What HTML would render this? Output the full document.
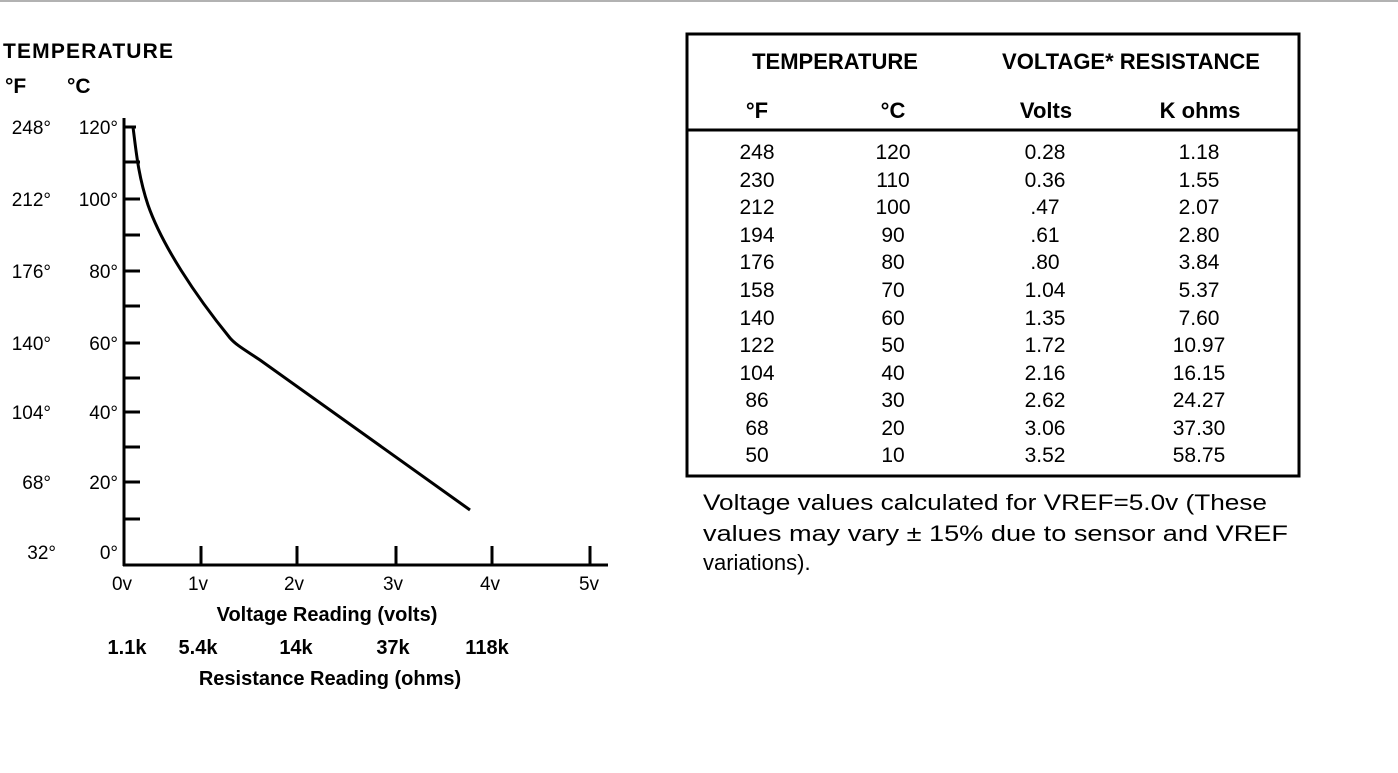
<!DOCTYPE html>
<html><head><style>
body{margin:0;width:1398px;height:773px;background:#fff;overflow:hidden;font-family:"Liberation Sans",Arial,sans-serif;}
svg{position:absolute;left:0;top:0}
</style></head><body>
<svg width="1398" height="773" viewBox="0 0 1398 773" font-family="Liberation Sans, Arial, sans-serif">
<line x1="0" y1="1" x2="1398" y2="1" stroke="#999" stroke-width="1.5"/>
<g font-weight="bold" font-size="21" fill="#000">
<text x="3" y="58" textLength="170">TEMPERATURE</text>
<text x="5" y="93">°F</text>
<text x="67" y="93">°C</text>
</g>
<g font-size="19" fill="#000" text-anchor="end">
<text x="51" y="134">248°</text><text x="118" y="134">120°</text>
<text x="51" y="206">212°</text><text x="118" y="206">100°</text>
<text x="51" y="278">176°</text><text x="118" y="278">80°</text>
<text x="51" y="350">140°</text><text x="118" y="350">60°</text>
<text x="51" y="419">104°</text><text x="118" y="419">40°</text>
<text x="51" y="489">68°</text><text x="118" y="489">20°</text>
<text x="56" y="559">32°</text><text x="118" y="559">0°</text>
</g>
<g stroke="#000" stroke-width="3" fill="none">
<line x1="124" y1="118" x2="124" y2="566"/>
<line x1="123" y1="565" x2="608" y2="565"/>
<path d="M124 127H136 M124 162H140 M124 199H140 M124 235H140 M124 271H140 M124 306H140 M124 343H140 M124 378H140 M124 412H140 M124 447H140 M124 482H140 M124 519H140"/>
<path d="M201 546V565 M297 546V565 M396 546V565 M492 546V565 M590 546V565"/>
<path d="M133 127 C136 150,138 175,148 205 C162 245,195 295,230 338 C236 345,245 350,260 360 L470 510"/>
</g>
<g font-size="19" fill="#000" text-anchor="middle">
<text x="122" y="590">0v</text><text x="198" y="590">1v</text><text x="294" y="590">2v</text>
<text x="393" y="590">3v</text><text x="490" y="590">4v</text><text x="589" y="590">5v</text>
</g>
<g font-size="20" font-weight="bold" fill="#000" text-anchor="middle">
<text x="327" y="621">Voltage Reading (volts)</text>
<text x="127" y="654">1.1k</text><text x="198" y="654">5.4k</text><text x="296" y="654">14k</text>
<text x="393" y="654">37k</text><text x="487" y="654">118k</text>
<text x="330" y="685">Resistance Reading (ohms)</text>
</g>
<rect x="687" y="34" width="612" height="442" fill="none" stroke="#000" stroke-width="3"/>
<line x1="687" y1="130" x2="1299" y2="130" stroke="#000" stroke-width="3"/>
<g font-weight="bold" font-size="22" fill="#000" text-anchor="middle">
<text x="835" y="69">TEMPERATURE</text>
<text x="1131" y="69">VOLTAGE* RESISTANCE</text>
<text x="757" y="118">°F</text><text x="893" y="118">°C</text>
<text x="1046" y="118">Volts</text><text x="1200" y="118">K ohms</text>
</g>
<g font-size="21" fill="#000" text-anchor="middle">
<text y="159"><tspan x="757">248</tspan><tspan x="893">120</tspan><tspan x="1045">0.28</tspan><tspan x="1199">1.18</tspan></text>
<text y="187"><tspan x="757">230</tspan><tspan x="893">110</tspan><tspan x="1045">0.36</tspan><tspan x="1199">1.55</tspan></text>
<text y="214"><tspan x="757">212</tspan><tspan x="893">100</tspan><tspan x="1045">.47</tspan><tspan x="1199">2.07</tspan></text>
<text y="242"><tspan x="757">194</tspan><tspan x="893">90</tspan><tspan x="1045">.61</tspan><tspan x="1199">2.80</tspan></text>
<text y="269"><tspan x="757">176</tspan><tspan x="893">80</tspan><tspan x="1045">.80</tspan><tspan x="1199">3.84</tspan></text>
<text y="297"><tspan x="757">158</tspan><tspan x="893">70</tspan><tspan x="1045">1.04</tspan><tspan x="1199">5.37</tspan></text>
<text y="325"><tspan x="757">140</tspan><tspan x="893">60</tspan><tspan x="1045">1.35</tspan><tspan x="1199">7.60</tspan></text>
<text y="352"><tspan x="757">122</tspan><tspan x="893">50</tspan><tspan x="1045">1.72</tspan><tspan x="1199">10.97</tspan></text>
<text y="380"><tspan x="757">104</tspan><tspan x="893">40</tspan><tspan x="1045">2.16</tspan><tspan x="1199">16.15</tspan></text>
<text y="407"><tspan x="757">86</tspan><tspan x="893">30</tspan><tspan x="1045">2.62</tspan><tspan x="1199">24.27</tspan></text>
<text y="435"><tspan x="757">68</tspan><tspan x="893">20</tspan><tspan x="1045">3.06</tspan><tspan x="1199">37.30</tspan></text>
<text y="462"><tspan x="757">50</tspan><tspan x="893">10</tspan><tspan x="1045">3.52</tspan><tspan x="1199">58.75</tspan></text>
</g>
<g font-size="22" fill="#000">
<text x="703" y="510" textLength="564" lengthAdjust="spacingAndGlyphs">Voltage values calculated for VREF=5.0v (These</text>
<text x="703" y="541" textLength="585" lengthAdjust="spacingAndGlyphs">values may vary ± 15% due to sensor and VREF</text>
<text x="703" y="570">variations).</text>
</g>
</svg>
</body></html>
